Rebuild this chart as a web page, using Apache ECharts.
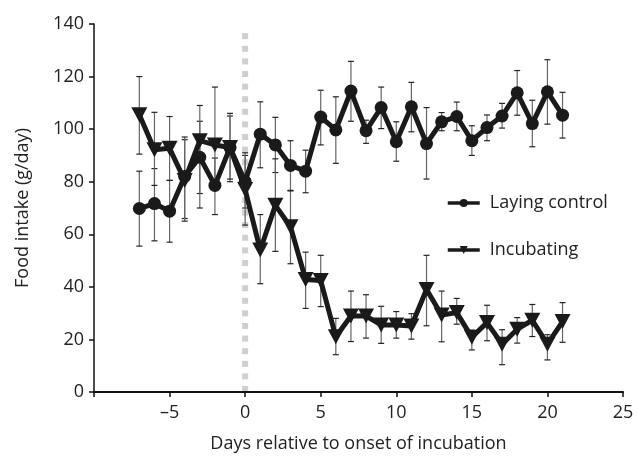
<!DOCTYPE html>
<html>
<head>
<meta charset="utf-8">
<script src="https://cdn.jsdelivr.net/npm/echarts@6/dist/echarts.min.js"></script>
<style>html,body{margin:0;padding:0;background:#fff}#c{width:638px;height:458px}</style>
</head>
<body>
<div id="c"></div>
<script>
const days = [-7,-6,-5,-4,-3,-2,-1,0,1,2,3,4,5,6,7,8,9,10,11,12,13,14,15,16,17,18,19,20,21];
const laying = [69.8,71.7,68.8,82,89.3,78.6,93,80,98.1,94,86.2,84,104.6,99.7,114.5,99.4,108.2,95.2,108.5,94.5,102.8,104.8,95.6,100.6,105,113.8,102.1,114.2,105.3];
const layingHigh = [84,85,80.5,96,103,89,105,90,110.4,104.5,95.6,92,114.8,112.3,125.8,103.4,116,102.8,117.8,108.2,106.3,110.3,101.3,105.4,109.8,122.3,111,126.4,114];
const layingLow = [55.5,57.5,57,66,75.5,67.5,80,70,85.3,83.5,76.7,75.8,94,87,103,94.6,100.2,87.8,99,81,99.4,99.4,90,95.6,100.4,105.3,93.3,101.9,96.6];
const incub = [105.5,92.2,92.7,80.5,95.6,94,93,77,54,71,62.9,42.8,42.4,21,28.9,28.9,25.5,25.5,25.1,39,29.3,30.2,20.8,26.4,18.2,23.9,27.3,18.2,26.8];
const incubHigh = [120,106.4,104.8,97,109,116,106,91,67.5,88.7,76.5,53.2,52,28,38.4,37,32.6,30.6,29.8,52,38.4,35.6,23.5,33,23.7,28.3,33.3,21.8,34];
const incubLow = [90.5,78.6,80.5,65,70,80,81,63.5,41.2,53.5,48.8,31.8,32.5,14.2,19.2,20.5,18.5,20.5,20.1,25.2,19.1,25.8,16,19.5,10.4,18.6,21.1,12.2,18.9];
const onsetLine = [[0, 0, 137.5]];
const xTicks = [-10,-5,0,5,10,15,20,25];
const yTicks = [0,20,40,60,80,100,120,140];

const FONT = 'Open Sans';
const TRI = 'path://M0,0 L10,0 L5,9 Z';
function errSeries(high, low) {
  return {
    type: 'custom',
    z: 1,
    silent: true,
    data: days.map((d, i) => [d, low[i], high[i]]),
    renderItem: function (params, api) {
      const x = api.value(0);
      const lo = api.coord([x, api.value(1)]);
      const hi = api.coord([x, api.value(2)]);
      const cw = 3;
      return {
        type: 'group',
        children: [
          {type: 'line', shape: {x1: lo[0], y1: lo[1], x2: hi[0], y2: hi[1]}, style: {stroke: '#666', lineWidth: 1.2}},
          {type: 'line', shape: {x1: hi[0]-cw, y1: hi[1], x2: hi[0]+cw, y2: hi[1]}, style: {stroke: '#222', lineWidth: 1.2}},
          {type: 'line', shape: {x1: lo[0]-cw, y1: lo[1], x2: lo[0]+cw, y2: lo[1]}, style: {stroke: '#222', lineWidth: 1.2}}
        ]
      };
    }
  };
}

const chart = echarts.init(document.getElementById('c'), null, {renderer: 'canvas'});
chart.setOption({
  animation: false,
  backgroundColor: '#fff',
  textStyle: {fontFamily: FONT},
  grid: {left: 94, right: 15, top: 24, bottom: 63, containLabel: false},
  legend: {
    orient: 'vertical',
    left: 446,
    top: 193,
    padding: 0,
    itemWidth: 32,
    itemHeight: 10,
    itemGap: 27,
    lineStyle: {width: 3.5},
    textStyle: {fontFamily: FONT, fontSize: 18, color: '#222', lineHeight: 20, padding: [0, 0, 0, 5]},
    data: ['Laying control', 'Incubating']
  },
  xAxis: {
    type: 'value',
    min: -10, max: 25, interval: 5,
    name: 'Days relative to onset of incubation',
    nameLocation: 'middle',
    nameGap: 43,
    nameTextStyle: {fontFamily: FONT, fontSize: 18, color: '#222'},
    axisLine: {onZero: false, lineStyle: {color: '#111', width: 2}},
    axisTick: {show: true, inside: false, length: 5, lineStyle: {color: '#111', width: 1.5}},
    splitLine: {show: false},
    axisLabel: {
      fontFamily: FONT, fontSize: 18, color: '#222', margin: 12,
      formatter: v => (xTicks.includes(v) && v !== -10) ? (v < 0 ? '\u2013' + Math.abs(v) : String(v)) : ''
    }
  },
  yAxis: {
    type: 'value',
    min: 0, max: 140, interval: 20,
    name: 'Food intake (g/day)',
    nameLocation: 'middle',
    nameGap: 62,
    nameTextStyle: {fontFamily: FONT, fontSize: 18, color: '#222'},
    axisLine: {show: true, onZero: false, lineStyle: {color: '#111', width: 1.5}},
    axisTick: {show: true, length: 5, lineStyle: {color: '#111', width: 1.5}},
    splitLine: {show: false},
    axisLabel: {fontFamily: FONT, fontSize: 18, color: '#222', margin: 10,
      formatter: v => yTicks.includes(v) ? String(v) : ''}
  },
  series: [
    {
      type: 'custom',
      name: 'onset',
      z: 0,
      silent: true,
      data: onsetLine,
      renderItem: function (params, api) {
        const a = api.coord([api.value(0), api.value(1)]);
        const b = api.coord([api.value(0), api.value(2)]);
        const children = [];
        const sz = 6, step = 12.6;
        for (let y = a[1] - sz; y >= b[1] - 0.5; y -= step) {
          children.push({type: 'rect', shape: {x: a[0] - sz / 2, y: y, width: sz, height: sz},
            style: {fill: '#cfcfcf'}});
        }
        return {type: 'group', children: children};
      }
    },
    errSeries(layingHigh, layingLow),
    errSeries(incubHigh, incubLow),
    {
      name: 'Laying control',
      type: 'line',
      z: 3,
      data: days.map((d, i) => [d, laying[i]]),
      symbol: 'circle',
      symbolSize: 13,
      itemStyle: {color: '#1a1a1a'},
      lineStyle: {color: '#1a1a1a', width: 5}
    },
    {
      name: 'Incubating',
      type: 'line',
      z: 3,
      data: days.map((d, i) => [d, incub[i]]),
      symbol: TRI,
      symbolSize: [16, 15],
      itemStyle: {color: '#1a1a1a'},
      lineStyle: {color: '#1a1a1a', width: 5}
    }
  ]
});
</script>
</body>
</html>
